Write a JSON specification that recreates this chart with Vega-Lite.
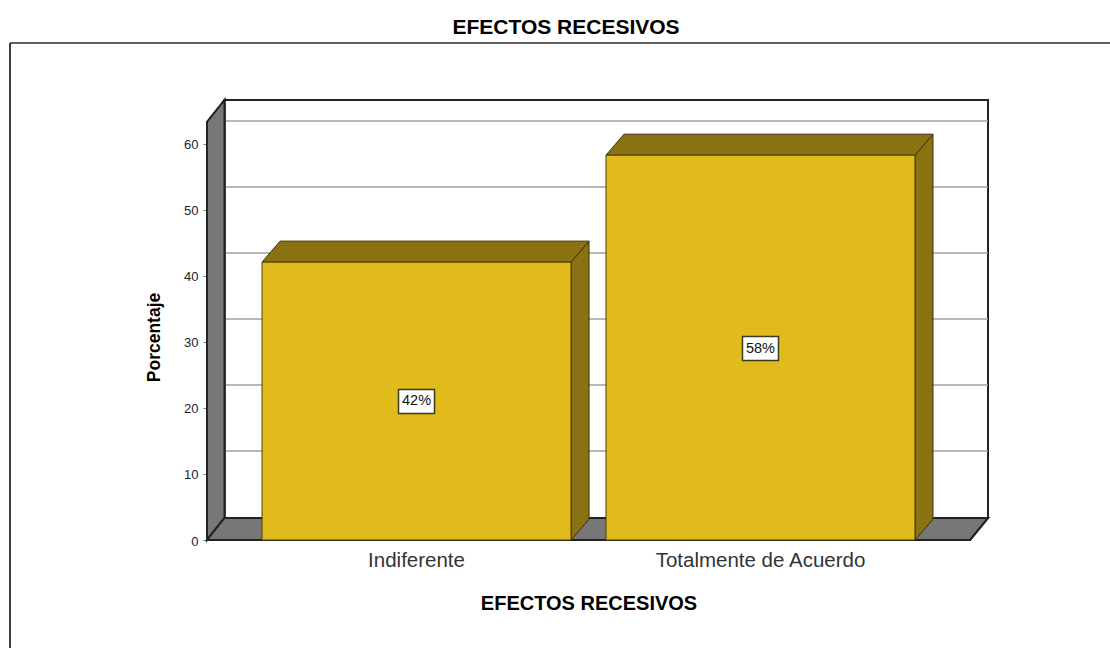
{
"$schema":"https://vega.github.io/schema/vega-lite/v6.json",
"width":1100,"height":605,
"autosize":{"type":"none"},
"padding":{"left":10,"top":43,"right":0,"bottom":0},
"background":"white",
"config":{"view":{"stroke":null},"font":"Liberation Sans"},
"title":{"text":"EFECTOS RECESIVOS","fontSize":21,"fontWeight":"bold","font":"Liberation Sans","color":"#000000","anchor":"middle","dx":6,"offset":4},
"datasets":{
"barras":[{"categoria":"Indiferente","porcentaje":42.1,"centro":21,"etiqueta":"42%"},{"categoria":"Totalmente de Acuerdo","porcentaje":58.3,"centro":29,"etiqueta":"58%"}],
"rejilla":[{"v":10},{"v":20},{"v":30},{"v":40},{"v":50},{"v":60}]
},
"data":{"name":"barras"},
"layer":[
{"layer":[
{"mark":{"type":"rule","color":"#555555","strokeWidth":1.5},"encoding":{"x":{"datum":0,"type":"quantitative","scale":{"domain":[0,1]},"axis":null},"x2":{"datum":1},"y":{"datum":1,"type":"quantitative","scale":{"domain":[0,1]},"axis":null}}},
{"mark":{"type":"rule","color":"#333333","strokeWidth":1.5},"encoding":{"x":{"datum":0,"type":"quantitative","scale":{"domain":[0,1]},"axis":null},"y":{"datum":0,"type":"quantitative","scale":{"domain":[0,1]},"axis":null},"y2":{"datum":1}}}
]},
{"layer":[
{"mark":{"type":"rect","fill":"white","stroke":"#222222","strokeWidth":2},"encoding":{"x":{"datum":0,"type":"quantitative","scale":{"domain":[0,1],"range":[214.5,978]},"axis":null},"x2":{"datum":1},"y":{"datum":0,"type":"quantitative","scale":{"domain":[0,63.33],"range":[475,57]},"axis":null},"y2":{"datum":63.33}}},
{"data":{"name":"rejilla"},"mark":{"type":"rule","color":"#a0a0a0","strokeWidth":1.5,"yOffset":-1},"encoding":{"x":{"datum":0,"type":"quantitative","scale":{"domain":[0,1],"range":[214.5,978]},"axis":null},"x2":{"datum":1},"y":{"field":"v","type":"quantitative","scale":{"domain":[0,63.33],"range":[475,57]},"axis":null}}},
{"mark":{"type":"point","filled":true,"opacity":1,"size":4,"fill":"#777777","stroke":"#222222","strokeWidth":2,"shape":"M0,0 L0,-418 L-17.5,-396 L-17.5,22 Z"},"encoding":{"x":{"datum":0,"type":"quantitative","scale":{"domain":[0,1],"range":[214.5,978]},"axis":null},"y":{"datum":0,"type":"quantitative","scale":{"domain":[0,63.33],"range":[475,57]},"axis":null}}},
{"mark":{"type":"point","filled":true,"opacity":1,"size":4,"fill":"#777777","stroke":"#222222","strokeWidth":2,"shape":"M0,0 L763.5,0 L745.5,22 L-17.5,22 Z"},"encoding":{"x":{"datum":0,"type":"quantitative","scale":{"domain":[0,1],"range":[214.5,978]},"axis":null},"y":{"datum":0,"type":"quantitative","scale":{"domain":[0,63.33],"range":[475,57]},"axis":null}}}
]},
{"encoding":{
"x":{"field":"categoria","type":"nominal","sort":null,"scale":{"type":"band","domain":["Indiferente","Totalmente de Acuerdo"],"range":[197,960],"paddingInner":0.1017,"paddingOuter":0.16},
"axis":{"title":"EFECTOS RECESIVOS","titleFontSize":20,"titleFontWeight":"bold","titleColor":"#000000","titleFont":"Liberation Sans","titlePadding":23,"labelFontSize":20.5,"labelLimit":400,"labelColor":"#333333","labelAngle":0,"labelPadding":10,"ticks":false,"domain":false,"grid":false,"offset":-108}},
"y":{"field":"porcentaje","type":"quantitative","scale":{"domain":[0,63.33],"range":[497,79]},
"axis":{"title":"Porcentaje","titleFontSize":17.5,"titleFontWeight":"bold","titleColor":"#000000","titleFont":"Liberation Sans","titleX":-44,"titleY":294,"values":[0,10,20,30,40,50,60],"labelFontSize":13,"labelOffset":1,"labelColor":"#222222","tickColor":"#777777","tickSize":4,"labelPadding":5,"domain":false,"grid":false,"offset":-197}}
},
"layer":[
{"mark":{"type":"point","filled":true,"opacity":1,"size":4,"fill":"#8a7112","stroke":"#3a3008","strokeWidth":1},"encoding":{"shape":{"field":"categoria","type":"nominal","legend":null,"scale":{"domain":["Indiferente","Totalmente de Acuerdo"],"range":["M154.5,0 L172.5,-21 L172.5,257 L154.5,278 Z","M154.5,0 L172.5,-21 L172.5,364 L154.5,385 Z"]}}}},
{"mark":{"type":"point","filled":true,"opacity":1,"size":4,"fill":"#8a7112","stroke":"#3a3008","strokeWidth":1,"shape":"M-154.5,0 L-136.5,-21 L172.5,-21 L154.5,0 Z"}},
{"mark":{"type":"bar","fill":"#e1bb1c","stroke":"#4a3e0a","strokeWidth":1}},
{"mark":{"type":"point","filled":true,"opacity":1,"size":4,"fill":"white","stroke":"#3a3a20","strokeWidth":1.5,"shape":"M-18,-12 L18,-12 L18,12 L-18,12 Z"},"encoding":{"y":{"field":"centro","type":"quantitative"}}},
{"mark":{"type":"text","fontSize":14.5,"color":"#111111","font":"Liberation Sans"},"encoding":{"y":{"field":"centro","type":"quantitative"},"text":{"field":"etiqueta"}}}
]}
],
"resolve":{"scale":{"x":"independent","y":"independent"},"axis":{"x":"independent","y":"independent"}}
}
